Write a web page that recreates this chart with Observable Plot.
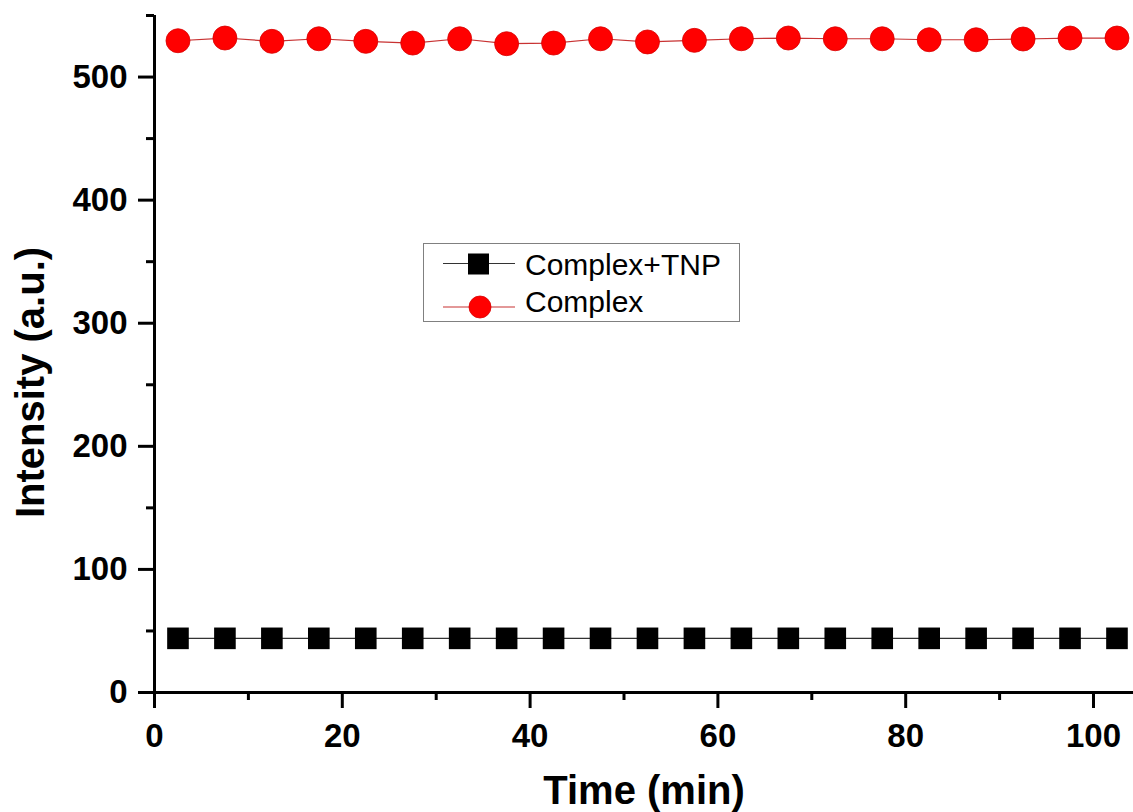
<!DOCTYPE html>
<html>
<head>
<meta charset="utf-8">
<script src="https://cdn.jsdelivr.net/npm/d3@7"></script>
<script src="https://cdn.jsdelivr.net/npm/@observablehq/plot@0.6"></script>
<style>
  body { margin: 0; background: #fff; }
  #wrap { position: relative; width: 1133px; height: 812px; font-family: "Liberation Sans", Arial, sans-serif; color: #000; }
  #legend { position: absolute; left: 423px; top: 243px; width: 317px; height: 79px; border: 1px solid #808080; box-sizing: border-box; background: #fff; }
  #legend svg { position: absolute; left: -1px; top: -1px; overflow: visible; }
</style>
</head>
<body>
<div id="wrap"></div>
<script>
// ---- data ----
const time = [2.5, 7.5, 12.5, 17.5, 22.5, 27.5, 32.5, 37.5, 42.5, 47.5, 52.5,
              57.5, 62.5, 67.5, 72.5, 77.5, 82.5, 87.5, 92.5, 97.5, 102.5];
const complexTNP = [44, 44, 44, 44, 44, 44, 44, 44, 44, 44, 44,
                    44, 44, 44, 44, 44, 44, 44, 44, 44, 44];
const complex = [529.5, 531.7, 529.0, 531.1, 529.0, 527.6, 531.1, 527.1, 527.6, 531.1, 528.5,
                 529.8, 531.1, 531.7, 531.1, 531.1, 530.3, 530.3, 530.9, 531.7, 531.7];
const seriesNames = ["Complex+TNP", "Complex"];
const xTicks = [0, 20, 40, 60, 80, 100];
const xMinorTicks = [10, 30, 50, 70, 90];
const yTicks = [0, 100, 200, 300, 400, 500];
const yMinorTicks = [50, 150, 250, 350, 450, 550];
const xTitle = "Time (min)";
const yTitle = "Intensity (a.u.)";

const tnp = time.map((t, i) => ({t, v: complexTNP[i]}));
const cpx = time.map((t, i) => ({t, v: complex[i]}));

const font = "Liberation Sans, Arial, sans-serif";

const chart = Plot.plot({
  width: 1133,
  height: 812,
  marginLeft: 154,
  marginRight: 0,
  marginTop: 15,
  marginBottom: 120,
  style: {fontFamily: font, background: "white", color: "black", overflow: "visible"},
  x: {domain: [0, 104.26]},
  y: {domain: [0, 550]},
  marks: [
    Plot.axisX({ticks: xMinorTicks, tickSize: 8, strokeWidth: 3, text: null, label: null}),
    Plot.axisX({ticks: xTicks, tickSize: 16, tickPadding: 15, strokeWidth: 3, fontSize: 33, fontWeight: "bold", label: null}),
    Plot.axisY({ticks: yMinorTicks, tickSize: 8, strokeWidth: 3, text: null, label: null}),
    Plot.axisY({ticks: yTicks, tickSize: 16, tickPadding: 11, strokeWidth: 3, fontSize: 33, fontWeight: "bold", label: null}),
    Plot.ruleX([0], {strokeWidth: 3}),
    Plot.ruleY([0], {strokeWidth: 3}),
    Plot.line(tnp, {x: "t", y: "v", stroke: "#333", strokeWidth: 1.2}),
    Plot.line(cpx, {x: "t", y: "v", stroke: "#c83232", strokeWidth: 1.2}),
    Plot.dot(tnp, {x: "t", y: "v", symbol: "square", r: 12.2, fill: "black"}),
    Plot.dot(cpx, {x: "t", y: "v", r: 12, fill: "#ff0000", stroke: "#d80000", strokeWidth: 0.8}),
    Plot.text([xTitle], {frameAnchor: "bottom", dy: 99, fontSize: 40, fontWeight: "bold", lineAnchor: "middle", textAnchor: "middle", fill: "black"}),
    Plot.text([yTitle], {frameAnchor: "left", dx: -123, dy: 28.5, rotate: -90, fontSize: 40, fontWeight: "bold", lineAnchor: "middle", textAnchor: "middle", fill: "black"})
  ]
});

const wrap = document.getElementById("wrap");
wrap.appendChild(chart);

// ---- legend (inside the plot area) ----
const legend = document.createElement("div");
legend.id = "legend";
legend.innerHTML = `
<svg width="317" height="79" xmlns="http://www.w3.org/2000/svg" font-family="${font}">
  <line x1="20" x2="92" y1="20.5" y2="20.5" stroke="#333" stroke-width="1.2"/>
  <rect x="45" y="10.5" width="21" height="21" fill="black"/>
  <text x="102" y="32" font-size="30" fill="black">${seriesNames[0]}</text>
  <line x1="20" x2="92" y1="64" y2="64" stroke="#c83232" stroke-width="1.2"/>
  <circle cx="57" cy="64" r="11" fill="#ff0000" stroke="#d80000" stroke-width="0.8"/>
  <text x="102" y="68.7" font-size="30" fill="black">${seriesNames[1]}</text>
</svg>`;
wrap.appendChild(legend);
</script>
</body>
</html>
